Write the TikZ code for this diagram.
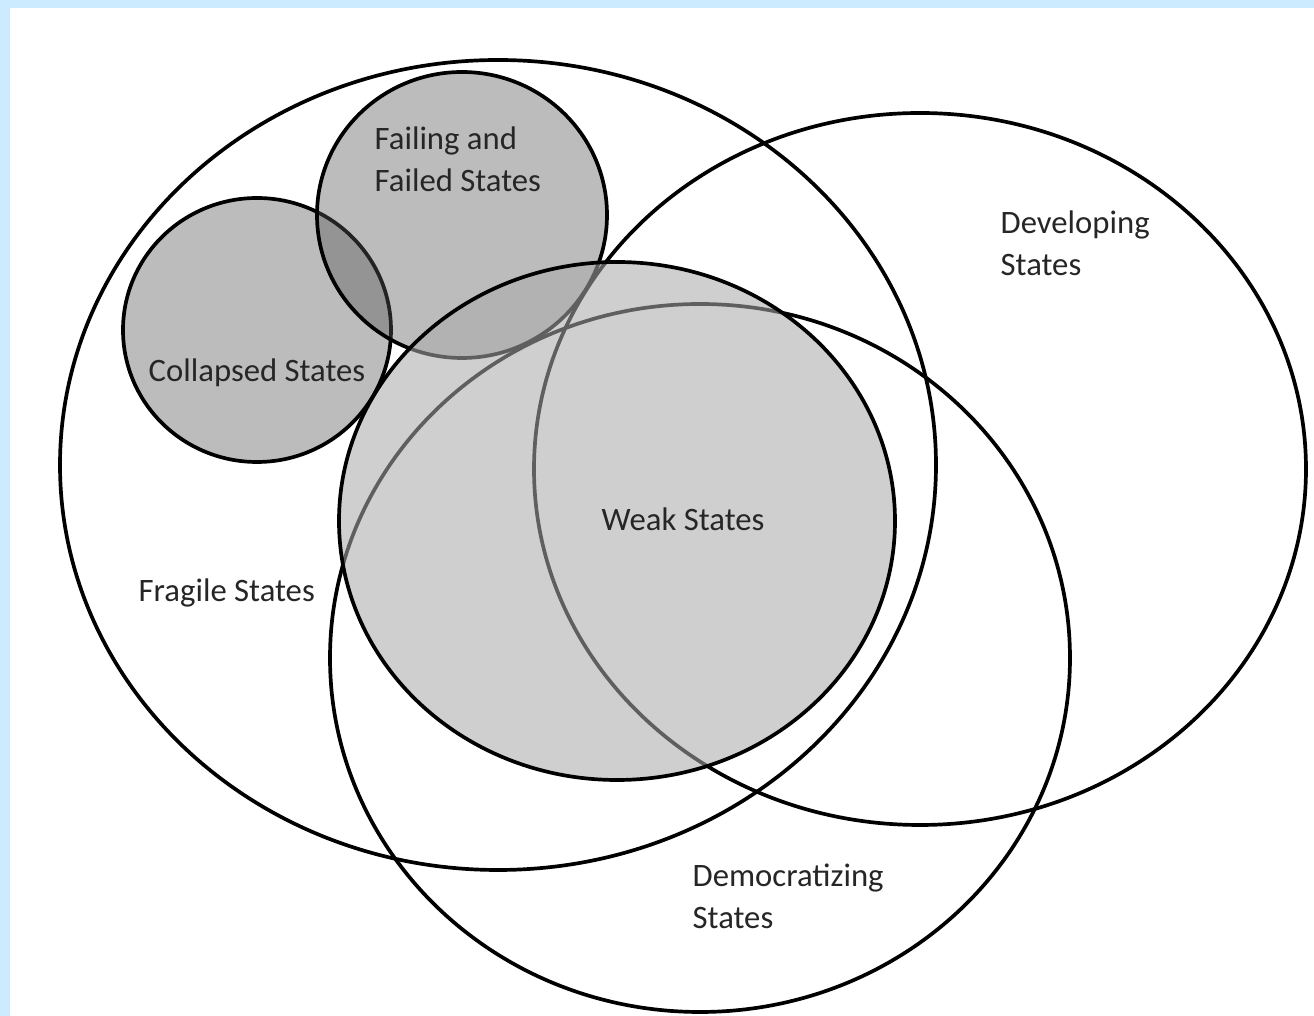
\documentclass[tikz,border=0pt]{standalone}
\usepackage{fontspec}
\setmainfont{Carlito}
\begin{document}
\begin{tikzpicture}[x=0.01cm,y=-0.01cm,
  setline/.style={line width=1.05pt,draw=black},
  darkset/.style={setline,fill=black!65,fill opacity=0.40},
  weakset/.style={setline,fill=black!33,fill opacity=0.56},
  lbl/.style={inner sep=0pt,text=black!85,align=left,
    font=\fontsize{9.3}{11.95}\selectfont}]
  % page frame
  \fill[fill={rgb,255:red,204;green,235;blue,255}] (0,0) rectangle (1314,1016);
  \fill[white] (10,8) rectangle (1314,1016);
  \useasboundingbox (0,0) rectangle (1314,1016);

  % large sets (outlines only)
  \draw[setline] (498,465) ellipse [x radius=438, y radius=405];
  \draw[setline] (920,469) ellipse [x radius=386, y radius=356];
  \draw[setline] (700,658) ellipse [x radius=370, y radius=354];

  % shaded subsets
  \draw[darkset] (257,330) ellipse [x radius=134, y radius=132];
  \draw[darkset] (462,215) ellipse [x radius=145, y radius=143];
  \draw[weakset] (617,521) ellipse [x radius=278, y radius=259];

  % labels (multi-line nodes sit on the baseline of their last line)
  \node[lbl,anchor=base west] (failing) at (374,192) {Failing and\\Failed States};
  \node[lbl,anchor=base west] (collapsed) at (148,382) {Collapsed States};
  \node[lbl,anchor=base west] (weak) at (601,531) {Weak States};
  \node[lbl,anchor=base west] (fragile) at (138,602) {Fragile States};
  \node[lbl,anchor=base west] (developing) at (1000,276) {Developing\\States};
  \node[lbl,anchor=base west] (democratizing) at (692,929) {Democratizing\\States};
\end{tikzpicture}
\end{document}
